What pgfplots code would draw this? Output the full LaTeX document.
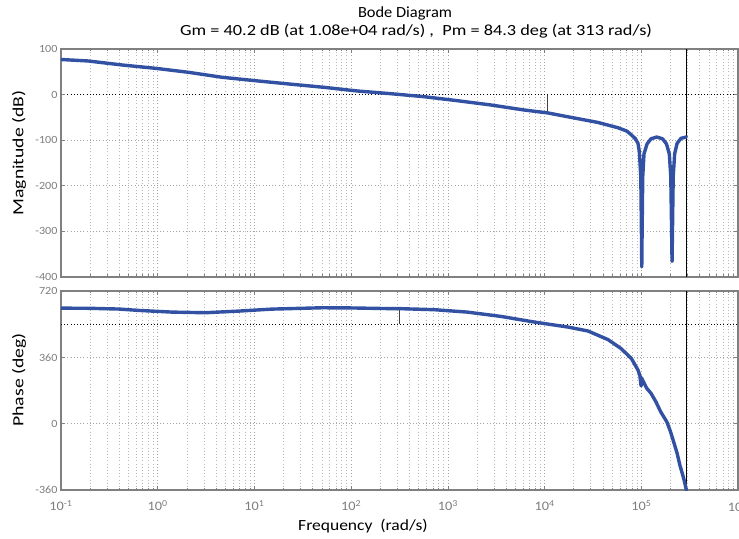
\documentclass[border=0pt]{standalone}
\usepackage{fontspec}
\setmainfont{Carlito}
\newfontfamily\ylabfont[FakeStretch=1.27]{Carlito}
\newfontfamily\xlabfont[FakeStretch=1.13]{Carlito}
\newfontfamily\titleAfont[FakeStretch=1.06]{Carlito}
\newfontfamily\titleBfont[FakeStretch=1.18]{Carlito}
\newfontfamily\tickfont[FakeStretch=1.1]{Carlito}
\usepackage{pgfplots}
\pgfplotsset{compat=1.18}
\definecolor{bodeblue}{RGB}{51,81,163}
\definecolor{axgray}{RGB}{128,128,128}
\definecolor{tickgray}{RGB}{125,125,125}
\definecolor{gridgray}{RGB}{165,165,165}

\pgfplotstableread{
w dB
0.1 77
0.192 73.7
0.4256 65
0.942 57.7
2.08 48.9
4.62 38
10.2 30.5
22.9 23.2
52.2 16
116 7.9
257 2
568 -4.6
1259 -13.4
2793 -22.8
6166 -33.8
10800 -40.2
15849 -47
35481 -61
57280 -72.6
70795 -80
78705 -88
87096 -97
92470 -107
95499 -125
98855 -180
100230 -290
101158 -378
102094 -290
103514 -180
106660 -130
114815 -108
125893 -97
144544 -93
165959 -97
181970 -108
194984 -130
201837 -180
205589 -290
207970 -366
210378 -290
213796 -180
221309 -130
234423 -107
257040 -96
292415 -93
}\magdata

\pgfplotstableread{
w deg
0.1 627
0.2 626
0.398 622
0.631 614.7
1.40 605.5
3.09 602
6.92 611
15.1 621.7
50.1 629
100 628
245 624.5
313 624.3
724 618.5
1585 605.5
3548 582
7834 551.5
10800 540.5
17378 524.5
28054 503
45186 456.5
61660 408
78886 354
92470 291
96605 262
99541 205
100462 250
102329 240
113501 193
125893 165
141254 120
158489 65
183654 10
199526 -40
216272 -99
234423 -160
251189 -227
275423 -300
292415 -360
}\phasedata

\pgfplotsset{
  /pgfplots/bodeaxis/.style={
    scale only axis, width=677bp,
    xmin=0.1, xmax=1e6,
    axis line style={axgray, line width=1.2bp},
    tick style={axgray, line width=0.6bp},
    major tick length=4bp, minor tick length=2.5bp,
    tick align=inside,
    xtick={0.1,1,10,100,1000,10000,100000,1000000},
    minor xtick={0.2,0.3,0.4,0.5,0.6,0.7,0.8,0.9,
      2,3,4,5,6,7,8,9,20,30,40,50,60,70,80,90,
      200,300,400,500,600,700,800,900,2000,3000,4000,5000,6000,7000,8000,9000,
      20000,30000,40000,50000,60000,70000,80000,90000,
      200000,300000,400000,500000,600000,700000,800000,900000},
    grid=both,
    major grid style={gridgray, line width=0.6bp, dash pattern=on 0.8bp off 2.4bp},
    minor grid style={gridgray!80, line width=0.6bp, dash pattern=on 0.8bp off 2.4bp},
    yticklabel style={tickgray, font=\tickfont\fontsize{11bp}{12bp}\selectfont},
    xticklabel style={tickgray, font=\tickfont\fontsize{13bp}{14bp}\selectfont, yshift=-7bp},
    ylabel style={font=\ylabfont\fontsize{15.5bp}{17bp}\selectfont, anchor=center},
    xlabel style={font=\xlabfont\fontsize{15.5bp}{17bp}\selectfont},
  },
}

\begin{document}
\begin{tikzpicture}
\useasboundingbox (-61bp,-49bp) rectangle (678bp,490bp);

\begin{axis}[xmode=log, bodeaxis, name=phase, at={(0,0)}, anchor=south west,
  height=199bp, ymin=-360, ymax=720,
  ytick={-360,0,360,720}, yticklabels={-360,0,360,720},
  extra y ticks={540}, extra y tick labels={},
  extra y tick style={major tick length=0pt, major grid style={black, line width=0.6bp, dash pattern=on 0.8bp off 2.4bp}},
  xticklabels={10\textsuperscript{-1},10\textsuperscript{0},10\textsuperscript{1},10\textsuperscript{2},10\textsuperscript{3},10\textsuperscript{4},10\textsuperscript{5},10\textsuperscript{6}},
  ylabel={Phase (deg)},
  ylabel style={at={(axis description cs:-0.062,0.553)}},
  xlabel={Frequency~~(rad/s)},
  xlabel style={at={(axis description cs:0.446,-0.206)}, anchor=base},
]
\addplot[black, line width=0.8bp] coordinates {(292415,-360) (292415,720)};
\addplot[black!75, line width=0.8bp] coordinates {(313,540) (313,624.3)};
\addplot[bodeblue, line width=3.4bp, line join=round, line cap=round] table[x=w, y=deg] {\phasedata};
\end{axis}

\begin{axis}[xmode=log, bodeaxis, name=mag, at={(0,213bp)}, anchor=south west,
  height=228bp, ymin=-400, ymax=100,
  ytick={-400,-300,-200,-100,100}, yticklabels={-400,-300,-200,-100,100},
  extra y ticks={0}, extra y tick labels={0},
  extra y tick style={major grid style={black, line width=0.6bp, dash pattern=on 0.8bp off 2.4bp}},
  xticklabels={},
  ylabel={Magnitude (dB)},
  ylabel style={at={(axis description cs:-0.062,0.544)}},
]
\addplot[black, line width=0.8bp] coordinates {(292415,-400) (292415,100)};
\addplot[black!75, line width=0.8bp] coordinates {(10800,0) (10800,-40.2)};
\addplot[bodeblue, line width=3.4bp, line join=round, line cap=round] table[x=w, y=dB] {\magdata};
\end{axis}

\path (mag.north west) ++(344bp,31bp) node[anchor=base, font=\titleAfont\fontsize{15.5bp}{17bp}\selectfont] {Bode Diagram};
\path (mag.north west) ++(355bp,13.7bp) node[anchor=base, font=\titleBfont\fontsize{15.5bp}{17bp}\selectfont] {Gm = 40.2 dB (at 1.08e+04 rad/s) ,~ Pm = 84.3 deg (at 313 rad/s)};
\end{tikzpicture}
\end{document}
